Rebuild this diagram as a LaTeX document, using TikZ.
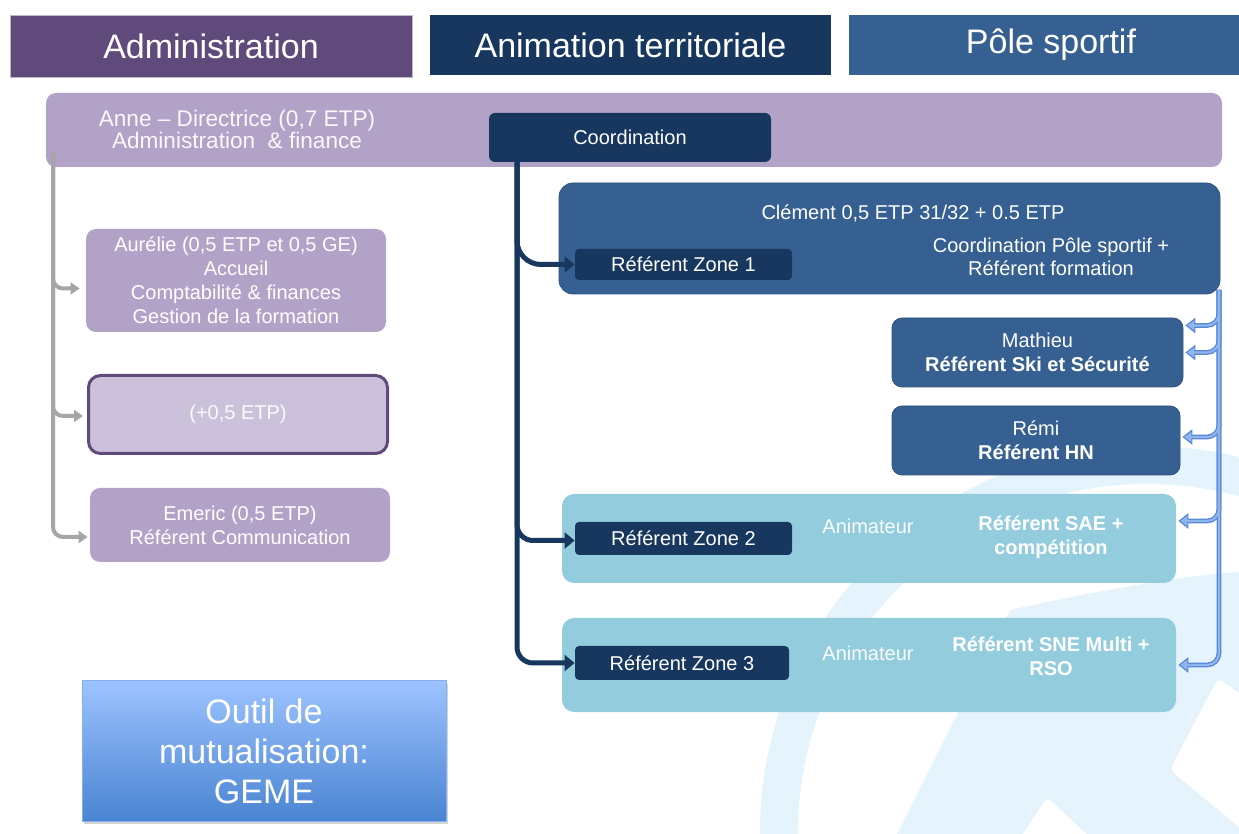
\documentclass[tikz,border=0pt]{standalone}
\usepackage{fontspec}
\setmainfont{Liberation Sans}
\usetikzlibrary{arrows.meta,shadows}
\definecolor{admpurple}{HTML}{604A7B}
\definecolor{lilac}{HTML}{B3A2C7}
\definecolor{lilaclight}{HTML}{CCC1DA}
\definecolor{navy}{HTML}{17375E}
\definecolor{steel}{HTML}{376092}
\definecolor{tealband}{HTML}{93CDDD}
\definecolor{wm}{HTML}{E5F3FC}
\definecolor{gline}{HTML}{A6A6A6}
\definecolor{bline}{HTML}{5587D6}
\definecolor{bfill}{HTML}{8FB5EC}
\definecolor{gemetop}{HTML}{9DC3FF}
\definecolor{gemebot}{HTML}{4A84D2}
\begin{document}
\begin{tikzpicture}[x=0.5pt,y=-0.5pt,
  hdr/.style={inner sep=0pt,text=white,font=\fontsize{17}{20}\selectfont},
  body/.style={font=\fontsize{10}{12}\selectfont},
  wtext/.style={text=white,align=center,inner sep=0pt},
  lilacbox/.style={fill=lilac,rounded corners=5pt,inner sep=0pt,text=white,align=center,font=\fontsize{10}{12}\selectfont},
  navybox/.style={fill=navy,rounded corners=2pt,inner sep=0pt,text=white,font=\fontsize{10}{12}\selectfont},
  steelbox/.style={fill=steel,draw=steel!85!black,line width=0.4pt,rounded corners=5pt,inner sep=0pt,text=white,align=center,font=\fontsize{10}{12}\selectfont},
  band/.style={fill=tealband,rounded corners=6pt,inner sep=0pt},
  gcon/.style={draw=gline,line width=2pt,rounded corners=5pt,-{Triangle[length=4.5pt,width=6pt]}},
  ncon/.style={draw=navy,line width=2.5pt,-{Triangle[length=5pt,width=8pt]}},
  bconout/.style={draw=bline,line width=2.4pt,rounded corners=6pt,-{Triangle[length=5pt,width=7.5pt]}},
  bconin/.style={draw=bfill,line width=1.1pt,rounded corners=6pt,shorten >=0.9pt,-{Triangle[length=3.6pt,width=5pt]}}
]
\useasboundingbox (0,0) rectangle (1239,834);

% watermark
\begin{scope}
\clip (0,0) rectangle (1239,834);
\fill[wm,even odd rule] (1147,833) circle[radius=193.5pt] (1147,833) circle[radius=174.5pt];
\fill[wm] (897,834) -- (1010,610) .. controls (1080,595) and (1160,578) .. (1239,572) -- (1239,834) -- cycle;
\fill[white,rounded corners=3pt] (1218,678) -- (1170,770) -- (1250,836) -- (1250,701) -- cycle;
\fill[white,rounded corners=3pt] (1047,797) -- (1019,840) -- (1093,840) -- cycle;
\end{scope}

% headers
\node[hdr,fill=admpurple,draw=admpurple!40!white,line width=0.4pt,minimum width=201pt,minimum height=31pt] (hadm) at (211,46) {Administration};
\node[hdr,fill=navy,minimum width=200.5pt,minimum height=30pt] (hanim) at (630.5,45) {Animation territoriale};
\node[hdr,fill=steel,minimum width=202pt,minimum height=30pt] (hpole) at (1051,45) {Pôle sportif};

% Anne band
\node[fill=lilac,rounded corners=5pt,minimum width=588pt,minimum height=37pt,inner sep=0pt] (anne) at (634,130) {};
\node[wtext,text=white!93!lilac,font=\fontsize{11.3}{11}\selectfont] (annetxt) at (237,129) {Anne – Directrice (0,7 ETP)\\Administration\ \ \& finance};

% Coordination
\node[navybox,rounded corners=3pt,minimum width=141pt,minimum height=24.5pt] (coord) at (630,137.5) {Coordination};

% Clement
\node[steelbox,rounded corners=7pt,minimum width=330.5pt,minimum height=55.5pt] (clem) at (889.5,238.5) {};
\node[wtext,body] (clemt1) at (913,213) {Clément 0,5 ETP 31/32 + 0.5 ETP};
\node[wtext,font=\fontsize{10}{11.5}\selectfont] (clemt2) at (1051,256.5) {Coordination Pôle sportif +\\Référent formation};
\node[navybox,minimum width=108.5pt,minimum height=15.5pt] (z1) at (683.5,264.5) {Référent Zone 1};

% Administration column
\node[lilacbox,minimum width=150pt,minimum height=51.5pt] (aur) at (236,280.5) {Aurélie (0,5 ETP et 0,5 GE)\\Accueil\\Comptabilité \& finances\\Gestion de la formation};
\node[fill=lilaclight,draw=admpurple,line width=1.5pt,rounded corners=6pt,minimum width=149.5pt,minimum height=39pt,inner sep=0pt,text=white!95!lilac,font=\fontsize{10}{12}\selectfont] (plus) at (238,414.5) {(+0,5 ETP)};
\node[lilacbox,minimum width=150pt,minimum height=37pt] (emer) at (240,525) {Emeric (0,5 ETP)\\Référent Communication};

% Pole sportif
\node[steelbox,minimum width=145.5pt,minimum height=34.5pt] (math) at (1037.5,352.5) {Mathieu\\\textbf{Référent Ski et Sécurité}};
\node[steelbox,minimum width=144pt,minimum height=34.5pt] (remi) at (1036,440.5) {Rémi\\\textbf{Référent HN}};

% Zone bands
\node[band,minimum width=307pt,minimum height=44.5pt] (zb2) at (869,538.5) {};
\node[navybox,minimum width=108.5pt,minimum height=16.5pt] (z2) at (683.5,538.5) {Référent Zone 2};
\node[wtext,body,text=white!95!tealband] (anim2) at (868,526) {Animateur};
\node[wtext,body,font=\fontsize{10}{12}\selectfont\bfseries] (ref2) at (1051,537) {Référent SAE +\\compétition};

\node[band,minimum width=307pt,minimum height=47pt] (zb3) at (869,665) {};
\node[navybox,minimum width=107pt,minimum height=17pt] (z3) at (682,663) {Référent Zone 3};
\node[wtext,body,text=white!95!tealband] (anim3) at (868,653) {Animateur};
\node[wtext,font=\fontsize{10}{12}\selectfont\bfseries] (ref3) at (1051,656) {Référent SNE Multi +\\RSO};

% GEME
\node[top color=gemetop,bottom color=gemebot,draw=gemetop!70!gemebot,line width=0.5pt,
  drop shadow={shadow xshift=1.2pt,shadow yshift=-1.5pt,opacity=0.35},
  minimum width=182pt,minimum height=70pt,inner sep=0pt,text=white,align=center,
  font=\fontsize{17}{20}\selectfont] (geme) at (264,751) {Outil de\\mutualisation:\\GEME};

% gray connectors
\coordinate (gtop) at (53,152);
\draw[gcon] (gtop) |- ([xshift=-3pt,yshift=-4pt]aur.west);
\draw[gcon] (gtop) |- ([xshift=-2pt,yshift=-0.75pt]plus.west);
\draw[gcon] (gtop) |- ([xshift=-1pt,yshift=-6pt]emer.west);

% navy connectors
\coordinate (ntop) at (517,160);
\draw[ncon,rounded corners=12pt] (ntop) |- (z1.west);
\draw[ncon,rounded corners=8pt] (ntop) |- ([yshift=-1pt]z2.west);
\draw[ncon,rounded corners=8pt] (ntop) |- (z3.west);

% blue connectors
\coordinate (btop) at (1219,290);
\coordinate (bt1) at ([xshift=1pt,yshift=13.5pt]math.east);
\coordinate (bt2) at ([xshift=1pt]math.east);
\coordinate (bt3) at ([xshift=1pt,yshift=1.75pt]remi.east);
\coordinate (bt4) at ([xshift=1pt,yshift=8.75pt]zb2.east);
\coordinate (bt5) at ([xshift=1pt]zb3.east);
\foreach \t in {bt1,bt2,bt3,bt4,bt5}{
  \draw[bconout] (btop) |- (\t);
}
\foreach \t in {bt1,bt2,bt3,bt4,bt5}{
  \draw[bconin] (btop) |- (\t);
}
\end{tikzpicture}
\end{document}
